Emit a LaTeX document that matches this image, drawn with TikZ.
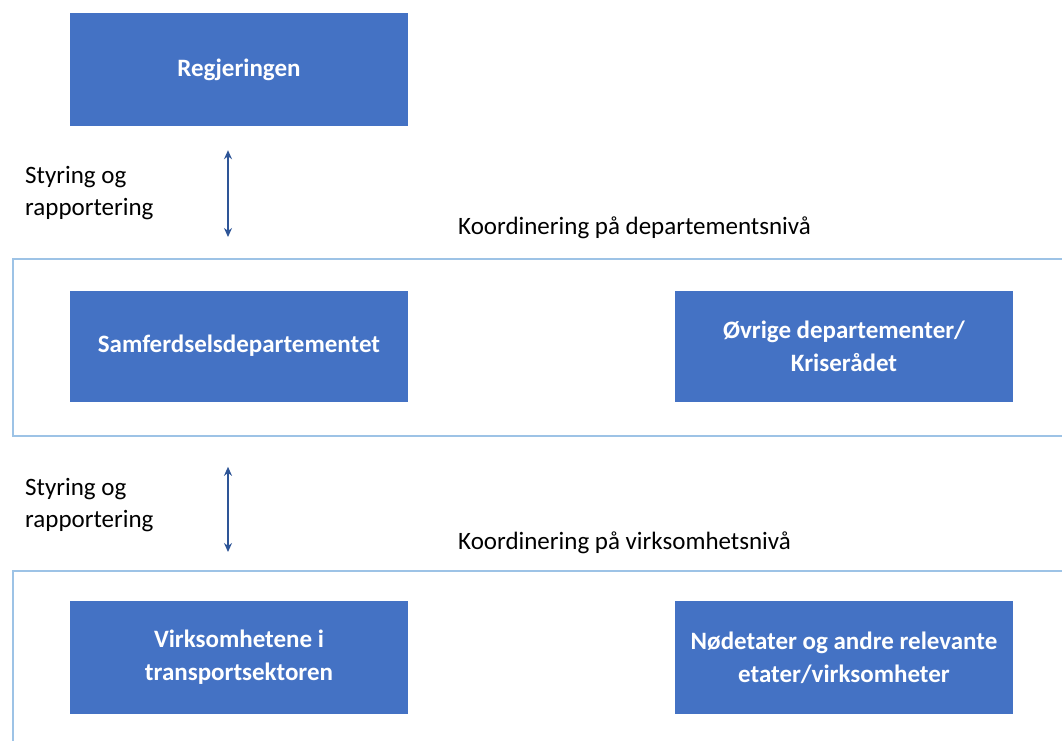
\documentclass[tikz,border=0pt]{standalone}
\usepackage{fontspec}
\setmainfont{Carlito}
\usetikzlibrary{arrows.meta,positioning}
\definecolor{boxblue}{RGB}{68, 114, 196}
\definecolor{framblue}{RGB}{157, 195, 230}
\definecolor{arrowblue}{RGB}{46, 85, 151}

\begin{document}
\begin{tikzpicture}[
    x=1pt, y=-1pt,
    every node/.style={align=center},
    unit/.style={rectangle, minimum width=338pt, minimum height=111pt, fill=boxblue, text=white, font=\fontsize{25}{33}\selectfont\bfseries, inner sep=0pt},
    level/.style={rectangle, draw=framblue, line width=1.8pt, minimum width=1080pt, minimum height=177pt, anchor=north west, inner sep=0pt},
    label/.style={font=\fontsize{25}{32}\selectfont, anchor=west, align=left, inner sep=0pt},
    arrow/.style={draw=arrowblue, line width=1.8pt, {Stealth[length=9pt,width=8pt]}-{Stealth[length=9pt,width=8pt]}}
]
\clip (0,0) rectangle (1062,740);
\useasboundingbox (0,0) rectangle (1062,740);

% Levels
\node[level] (depLevel) at (12,258) {};
\node[level] (virkLevel) at (12,570) {};

% Units
\node[unit, minimum height=113pt] (regjeringen) at (239,69.5) {Regjeringen};
\node[unit] (samferdsel) at (239,346) {Samferdselsdepartementet};
\node[unit] (ovrige) at (844,346) {Øvrige departementer/\\Kriserådet};
\node[unit, minimum height=113pt] (virksomhetene) at (239,657.5) {Virksomhetene i\\transportsektoren};
\node[unit, minimum height=113pt] (nodetater) at (844,657.5) {Nødetater og andre relevante\\etater/virksomheter};

% Labels
\node[label] (styring1) at (25,193) {Styring og\\rapportering};
\node[label] (styring2) at (25,505) {Styring og\\rapportering};
\node[label] (koordDep) at (458,228) {Koordinering på departementsnivå};
\node[label] (koordVirk) at (458,543) {Koordinering på virksomhetsnivå};

% Connections
\draw[arrow, shorten <=24pt, shorten >=21pt] ([xshift=-11pt]regjeringen.south) -- ([xshift=-11pt]regjeringen.south |- depLevel.north);
\draw[arrow, shorten <=30pt, shorten >=18pt] ([xshift=-11pt]samferdsel.south |- depLevel.south) -- ([xshift=-11pt]samferdsel.south |- virkLevel.north);

\end{tikzpicture}
\end{document}
